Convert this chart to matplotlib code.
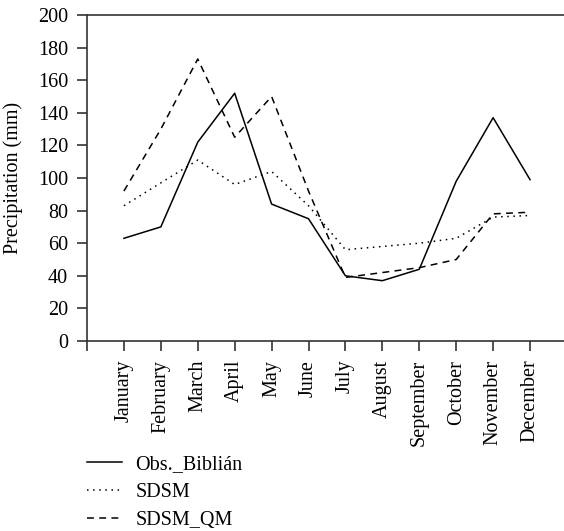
import matplotlib
matplotlib.use("Agg")
import matplotlib.pyplot as plt

months = ["January", "February", "March", "April", "May", "June", "July",
          "August", "September", "October", "November", "December"]
obs = [63, 70, 122, 152, 84, 75, 40, 37, 44, 98, 137, 99]
sdsm = [83, 97, 111, 96, 104, 83, 56, 58, 60, 63, 76, 77]
sdsm_qm = [92, 130, 173, 125, 150, 92, 39, 42, 45, 50, 78, 79]
yticks = list(range(0, 201, 20))

plt.rcParams['font.family'] = ['Liberation Serif', 'DejaVu Serif']
plt.rcParams['font.size'] = 14.5

fig = plt.figure(figsize=(5.64, 5.31), dpi=100)
ax = fig.add_axes([87/564, 1-341/531, 1-87/564, (341-15)/531])

x = list(range(1, 13))
ax.plot(x, obs, color='black', lw=1.1, ls='-', label='Obs._Biblián')
ax.plot(x, sdsm, color='black', lw=1.1, ls=(0, (1, 3)), label='SDSM')
ax.plot(x, sdsm_qm, color='black', lw=1.1, ls=(0, (4.5, 3.5)), label='SDSM_QM')

ax.set_xlim(0, 12.92)
ax.set_ylim(0, 200)
ax.set_yticks(yticks)
ax.set_xticks([0] + x)
ax.set_xticklabels([''] + months, rotation=90, va='top', ha='center')
ax.set_ylabel('Precipitation (mm)')
ax.yaxis.set_label_coords(-64/477, 0.5)
ax.spines['right'].set_visible(False)
for s in ['left', 'bottom', 'top']:
    ax.spines[s].set_linewidth(1.2)
    ax.spines[s].set_color('#333333')
ax.tick_params(direction='out', length=7.5, width=1.2, color='#333333', pad=6)

leg = fig.legend(loc='upper left', bbox_to_anchor=(87/564, 1-455/531), frameon=False,
                 handlelength=1.75, handletextpad=0.65, labelspacing=0.45,
                 borderpad=0, borderaxespad=0)

fig.savefig('out.png', dpi=100)
